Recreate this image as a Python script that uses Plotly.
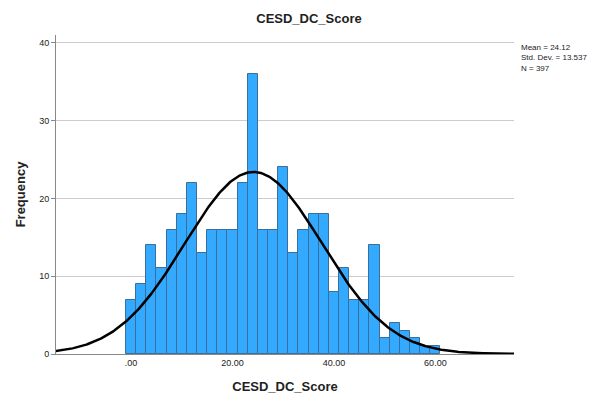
import numpy as np
import plotly.graph_objects as go

centers = list(range(0, 62, 2))
counts = [7, 9, 14, 11, 16, 18, 22, 13, 16, 16, 16, 22, 36, 16, 16,
          24, 13, 16, 18, 18, 8, 11, 7, 7, 14, 2, 4, 3, 2, 1, 1]
mean, sd, n = 24.12, 13.537, 397
binw = 2
tickvals = [0, 20, 40, 60]
ticktext = [".00", "20.00", "40.00", "60.00"]

xs = np.linspace(-15, 76, 400)
ys = n * binw * np.exp(-0.5 * ((xs - mean) / sd) ** 2) / (sd * np.sqrt(2 * np.pi))

fig = go.Figure()
fig.add_bar(x=centers, y=counts, width=binw, marker=dict(color="#33aaff", line=dict(color="#3a6f9a", width=1)))
fig.add_scatter(x=xs, y=ys, mode="lines", line=dict(color="black", width=2.5))
fig.update_layout(
    width=602, height=402, showlegend=False, plot_bgcolor="white", paper_bgcolor="white",
    margin=dict(l=43, r=96, t=27, b=56),
    font=dict(family="Liberation Sans", size=9, color="#222"),
    title=dict(text="<b>CESD_DC_Score</b>", x=0.5, xanchor="center", y=0.985, font=dict(size=13)),
    bargap=0,
)
fig.update_xaxes(range=[-14.8, 75.5], tickvals=tickvals, ticktext=ticktext, showgrid=False,
                 showline=True, linecolor="#888", zeroline=False,
                 title=dict(text="<b>CESD_DC_Score</b>", font=dict(size=13)))
fig.update_yaxes(range=[0, 41], tickvals=[0, 10, 20, 30, 40], showgrid=True, gridcolor="#cccccc",
                 showline=True, linecolor="#888", zeroline=False, ticks="outside", ticklen=4, tickcolor="#888",
                 title=dict(text="<b>Frequency</b>", font=dict(size=13), standoff=10))
fig.add_annotation(x=1.01, y=0.98, xref="paper", yref="paper", xanchor="left", yanchor="top", align="left",
                   showarrow=False, text="Mean = 24.12<br>Std. Dev. = 13.537<br>N = 397", font=dict(size=8))
fig.write_html("out.html")
